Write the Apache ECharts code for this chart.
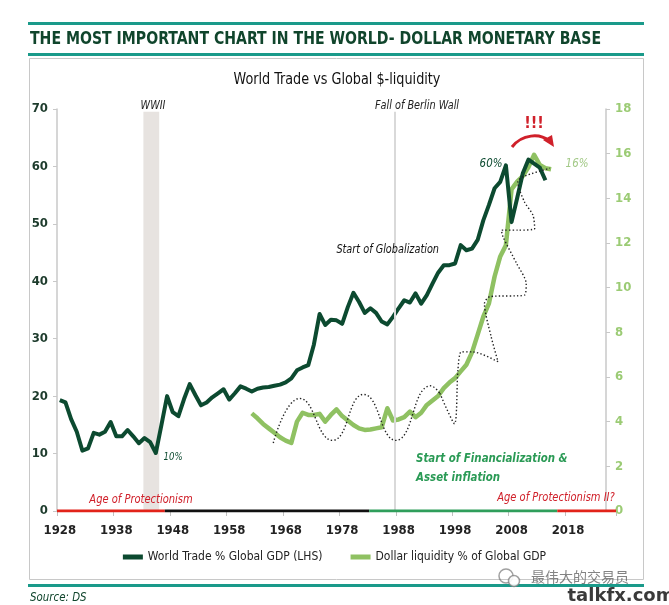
<!DOCTYPE html>
<html><head><meta charset="utf-8">
<script src="https://cdn.jsdelivr.net/npm/echarts@6/dist/echarts.min.js"></script>
<style>html,body{margin:0;padding:0;background:#fff}#c{width:669px;height:605px}</style>
</head><body><div id="c"></div>
<script>
// ---------- data ----------
const firstYear = 1928, lastYear = 2026;
const yearCats = [];
for (let y = firstYear; y <= lastYear; y++) yearCats.push(String(y));
const tickLabels = ['1928','1938','1948','1958','1968','1978','1988','1998','2008','2018'];

const tradeStart = 1928;
const worldTrade = [19.3,18.9,16.0,13.8,10.5,10.9,13.6,13.3,13.8,15.5, // 1928-37
  13.0,13.0,14.1,13.0,11.8,12.7,12.0,10.1,15.0,20.0,                   // 1938-47
  17.2,16.5,19.5,22.1,20.2,18.4,18.9,19.8,20.5,21.2,                   // 1948-57
  19.4,20.5,21.7,21.3,20.8,21.3,21.5,21.6,21.8,22.0,                   // 1958-67
  22.4,23.1,24.5,25.0,25.4,29.0,34.3,32.4,33.3,33.2,                   // 1968-77
  32.6,35.5,38.0,36.4,34.5,35.3,34.5,33.0,32.5,33.8,                   // 1978-87
  35.3,36.7,36.3,37.9,36.1,37.6,39.6,41.5,42.8,42.8,                   // 1988-97
  43.1,46.3,45.4,45.7,47.2,50.6,53.3,56.2,57.3,60.2,                   // 1998-2007
  50.3,54.5,58.8,61.2,60.5,59.8,57.6];                                 // 2008-14

const liqStart = 1962;
const dollarLiquidity = [4.37,4.15,3.9,3.7,3.5,3.3,3.15,3.05,4.0,4.4,  // 1962-71
  4.3,4.3,4.35,4.0,4.3,4.55,4.25,4.05,3.85,3.7,                        // 1972-81
  3.63,3.65,3.7,3.75,4.6,4.05,4.1,4.2,4.45,4.2,                        // 1982-91
  4.4,4.75,4.95,5.15,5.5,5.75,5.95,6.25,6.55,7.1,                      // 1992-2001
  7.9,8.7,9.3,10.5,11.4,11.9,14.4,14.75,15.0,15.4,                     // 2002-11
  15.95,15.5,15.35,15.3];                                              // 2012-15

// dotted sketch curve (year, left-axis value)
const dottedWave = [[1965.8,11.85],[1970.5,19.6],[1976.3,12.3],[1981.8,20.3],[1987.5,12.3],[1993.7,21.8],[1995.3,20.5]];
const dottedZigzag = [[1995.3,20.5],[1997.9,15.2],[1998.5,24.5],[1999.1,27.7],[2001.2,27.7],[2005.6,26.0],
  [2004.4,30.3],[2003.2,36.1],[2004.1,37.3],[2010.3,37.6],[2010.6,39.6],[2008.9,43.1],[2006.5,47.7],
  [2006.2,48.9],[2009.1,48.9],[2012.1,49.2],[2011.8,51.5],[2010.3,53.8],[2009.1,57.3],[2010.0,58.2],[2014.8,59.7]];

const eraBounds = [1927.5, 1946.6, 1982.8, 2016.1, 2026.5];
const eraColors = ['#e2231a', '#111111', '#2f9e5b', '#e2231a'];
const wwiiBand = [1942.8, 1945.6];
const berlinWall = 1987.4;

// ---------- styles ----------
const F = '"DejaVu Sans Condensed","Noto Sans",sans-serif';
const DARK = '#0c4a30', LIGHT = '#8fc162';

const eraSeries = eraColors.map((c, i) => ({
  type: 'line', xAxisIndex: 1, yAxisIndex: 0, symbol: 'none', silent: true, z: 5,
  data: [[eraBounds[i], 0], [eraBounds[i + 1], 0]],
  lineStyle: { color: c, width: 3 }
}));

function txt(text, x, y, font, fill, align, sx) {
  const a = align || 'center';
  return { type: 'text', z: 50, scaleX: sx || 1, originX: x, originY: y,
    style: { text, x, y, font, fill, textAlign: a, textVerticalAlign: 'middle', align: a, verticalAlign: 'middle' } };
}

const chart = echarts.init(document.getElementById('c'), null, { renderer: 'canvas' });
chart.setOption({
  animation: false,
  backgroundColor: '#ffffff',
  grid: { left: 57, right: 53, top: 109, bottom: 94 },
  legend: {
    bottom: 37, left: 'center', itemGap: 28, itemWidth: 20, itemHeight: 5, icon: 'rect',
    data: ['World Trade % Global GDP (LHS)', 'Dollar liquidity % of Global GDP'],
    textStyle: { fontFamily: F, fontSize: 12, color: '#222' }
  },
  xAxis: [
    { type: 'category', data: yearCats, boundaryGap: true,
      axisLine: { show: false },
      axisTick: { show: true, interval: 9, length: 5, lineStyle: { color: '#c0c0c0' } },
      axisLabel: { interval: 9, margin: 13, fontFamily: F, fontWeight: 'bold', fontSize: 13, color: '#222',
        formatter: v => tickLabels.includes(v) ? v : '' },
      splitLine: { show: false } },
    { type: 'value', min: 1927.5, max: 2026.5, show: false }
  ],
  yAxis: [
    { type: 'value', min: 0, max: 70, interval: 10, position: 'left',
      axisLine: { show: true, lineStyle: { color: '#c8c8c8', width: 1.5 } },
      axisTick: { show: true, length: 4, lineStyle: { color: '#c8c8c8' } },
      axisLabel: { margin: 9, fontFamily: F, fontWeight: 'bold', fontSize: 13, color: '#1d3b2c' },
      splitLine: { show: false } },
    { type: 'value', min: 0, max: 18, interval: 2, position: 'right', offset: -10,
      axisLine: { show: true, lineStyle: { color: '#c8c8c8', width: 1.5 } },
      axisTick: { show: true, length: 4, lineStyle: { color: '#c8c8c8' } },
      axisLabel: { margin: 9, fontFamily: F, fontWeight: 'bold', fontSize: 13, color: '#9bcb74' },
      splitLine: { show: false } }
  ],
  series: [
    { type: 'line', xAxisIndex: 1, yAxisIndex: 0, data: [], silent: true, z: 1,
      markArea: { silent: true, itemStyle: { color: '#e7e3e0' }, label: { show: false },
        data: [[{ xAxis: wwiiBand[0], yAxis: 0 }, { xAxis: wwiiBand[1], yAxis: 69.5 }]] },
      markLine: { silent: true, symbol: 'none', label: { show: false },
        lineStyle: { color: '#d9d9d9', width: 2, type: 'solid' },
        data: [[{ coord: [berlinWall, 0] }, { coord: [berlinWall, 69.5] }]] } },
    ...eraSeries,
    { name: 'Dollar liquidity % of Global GDP', type: 'line', xAxisIndex: 1, yAxisIndex: 1, symbol: 'none', z: 3,
      data: dollarLiquidity.map((v, i) => [liqStart + i, v]),
      itemStyle: { color: LIGHT }, lineStyle: { color: LIGHT, width: 4.5, join: 'round' } },
    { name: 'World Trade % Global GDP (LHS)', type: 'line', xAxisIndex: 1, yAxisIndex: 0, symbol: 'none', z: 4,
      data: worldTrade.map((v, i) => [tradeStart + i, v]),
      itemStyle: { color: DARK }, lineStyle: { color: DARK, width: 4, join: 'round' } },
    { type: 'line', xAxisIndex: 1, yAxisIndex: 0, symbol: 'none', z: 6, smooth: 0.5, silent: true,
      data: dottedWave, lineStyle: { color: '#222', width: 1.4, type: [1.4, 2.2] } },
    { type: 'line', xAxisIndex: 1, yAxisIndex: 0, symbol: 'none', z: 6, smooth: 0.25, silent: true,
      data: dottedZigzag, lineStyle: { color: '#222', width: 1.4, type: [1.4, 2.2] } }
  ],
  graphic: [
    { type: 'rect', z: 0, shape: { x: 28, y: 22, width: 616, height: 3 }, style: { fill: '#1a9a8a' } },
    { type: 'rect', z: 0, shape: { x: 28, y: 53, width: 616, height: 3 }, style: { fill: '#1a9a8a' } },
    { type: 'rect', z: 0, shape: { x: 29.5, y: 58.5, width: 614, height: 521 }, style: { fill: null, stroke: '#c8c8c8', lineWidth: 1 } },
    { type: 'rect', z: 0, shape: { x: 28, y: 584, width: 616, height: 3 }, style: { fill: '#1a9a8a' } },
    txt('THE MOST IMPORTANT CHART IN THE WORLD- DOLLAR MONETARY BASE', 30, 39, 'bold 18px ' + F, '#10452c', 'left', 0.87),
    txt('World Trade vs Global $-liquidity', 337, 80, '16px ' + F, '#111', 'center', 0.89),
    txt('WWII', 153, 106, 'italic 12px ' + F, '#222', 'center', 0.9),
    txt('Fall of Berlin Wall', 417, 106, 'italic 12px ' + F, '#222', 'center', 0.9),
    txt('Start of Globalization', 439, 250, 'italic 12px ' + F, '#111', 'right', 0.9),
    txt('Start of Financialization &', 416, 459, 'italic bold 12px ' + F, '#2a9a55', 'left', 0.95),
    txt('Asset inflation', 416, 478, 'italic bold 12px ' + F, '#2a9a55', 'left', 0.95),
    txt('Age of Protectionism', 141, 500, 'italic 12px ' + F, '#d0202a', 'center', 0.92),
    txt('Age of Protectionism II?', 556, 498, 'italic 12px ' + F, '#d0202a', 'center', 0.92),
    txt('60%', 491, 164, 'italic 12px ' + F, '#0c4a30', 'center', 0.95),
    txt('16%', 577, 164, 'italic 12px ' + F, '#a3c987', 'center', 0.95),
    txt('10%', 173, 457, 'italic 10px ' + F, '#0c4a30', 'center', 0.95),
    txt('!!!', 534, 124, 'bold 16px ' + F, '#d0202a'),
    { type: 'bezierCurve', z: 50, shape: { x1: 512, y1: 147, cpx1: 522, cpy1: 134, cpx2: 540, cpy2: 133, x2: 549, y2: 141 },
      style: { stroke: '#d0202a', lineWidth: 3, fill: null } },
    { type: 'polygon', z: 50, shape: { points: [[543, 140], [554, 147], [552, 135]] }, style: { fill: '#d0202a' } },
    txt('Source: DS', 30, 598, 'italic 12px ' + F, '#10452c', 'left', 0.95),
    { type: 'circle', z: 49, shape: { cx: 506, cy: 576, r: 7 }, style: { fill: null, stroke: 'rgba(120,120,120,0.7)', lineWidth: 1.5 } },
    { type: 'circle', z: 49, shape: { cx: 514, cy: 581, r: 5.5 }, style: { fill: 'rgba(255,255,255,0.9)', stroke: 'rgba(120,120,120,0.7)', lineWidth: 1.5 } },
    txt('最伟大的交易员', 580, 577, '14px "Noto Sans CJK SC",sans-serif', 'rgba(90,90,90,0.75)'),
    txt('talkfx.com', 621, 596, 'bold 18px "DejaVu Sans",sans-serif', '#3a3a3a')
  ]
});
</script></body></html>
